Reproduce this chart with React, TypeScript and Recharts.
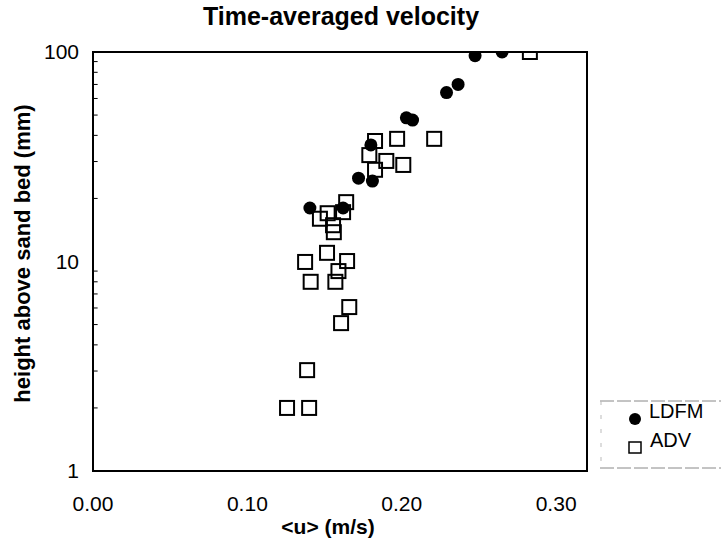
import React from "react";
import {
  ScatterChart,
  Scatter,
  XAxis,
  YAxis,
  ReferenceArea,
  ReferenceLine,
  Label,
} from "recharts";

// LDFM: velocity (m/s) vs height above bed (mm)
const ldfmU = [0.2475, 0.265, 0.229, 0.2365, 0.203, 0.207, 0.18, 0.172, 0.181, 0.1405, 0.162];
const ldfmZ = [96, 100, 64, 70, 48.5, 47.3, 36, 25, 24.2, 18, 18];

// ADV
const advU = [
  0.283, 0.1827, 0.197, 0.221, 0.179, 0.19, 0.201, 0.1827, 0.164, 0.152, 0.162, 0.147,
  0.1555, 0.156, 0.1516, 0.1374, 0.1646, 0.159, 0.141, 0.157, 0.166, 0.1607, 0.1387,
  0.1257, 0.14,
];
const advZ = [
  100, 37.6, 38.5, 38.5, 32.2, 30.2, 28.9, 27.4, 19.2, 17, 17.2, 16, 14.9, 13.8, 11,
  9.95, 10.05, 9, 8, 8, 6.06, 5.08, 3.03, 2, 2,
];

const xTicks = [0, 0.1, 0.2, 0.3];
const yTicks = [1, 10, 100];
const minorY = [2, 3, 4, 5, 6, 7, 8, 9, 20, 30, 40, 50, 60, 70, 80, 90];

const ldfm = ldfmU.map((u, i) => ({ u, z: ldfmZ[i] }));
const adv = advU.map((u, i) => ({ u, z: advZ[i] }));

const FONT = '"Liberation Sans", Arial, sans-serif';

const Dot = (p: any) => <circle cx={p.cx} cy={p.cy} r={6.5} fill="#000" />;
const Box = (p: any) => (
  <rect x={p.cx - 7} y={p.cy - 7} width={14} height={14} fill="none" stroke="#000" strokeWidth={2} />
);

// legend sits outside the plot, right of the frame
const LegendBox = () => (
  <svg width={121} height={70} style={{ position: "absolute", left: 600, top: 400 }}>
    <line x1={0} y1={1} x2={121} y2={1} stroke="#888" strokeDasharray="14 3" />
    <line x1={0} y1={68} x2={121} y2={68} stroke="#888" strokeDasharray="14 3" />
    <line x1={1} y1={1} x2={1} y2={68} stroke="#bbb" strokeDasharray="4 10" />
    <circle cx={35} cy={19} r={6} fill="#000" />
    <text x={49} y={18} fontSize={20} fontFamily={FONT}>LDFM</text>
    <rect x={29} y={42} width={12} height={11} fill="none" stroke="#000" strokeWidth={1.5} />
    <text x={50} y={47} fontSize={20} fontFamily={FONT}>ADV</text>
  </svg>
);

export default function App() {
  return (
    <div style={{ position: "absolute", left: 0, top: 0, width: 721, height: 541, background: "#fff", fontFamily: FONT }}>
      <div
        style={{
          position: "absolute",
          left: 141,
          top: 2,
          width: 400,
          textAlign: "center",
          fontSize: 25,
          fontWeight: "bold",
        }}
      >
        Time-averaged velocity
      </div>
      <ScatterChart width={721} height={541} margin={{ top: 52, right: 134, bottom: 0, left: 0 }}>
        <XAxis
          type="number"
          dataKey="u"
          domain={[0, 0.32]}
          ticks={xTicks}
          tickFormatter={(v: number) => v.toFixed(2)}
          tickSize={0}
          tickMargin={25}
          height={70}
          axisLine={{ stroke: "#000", strokeWidth: 2 }}
          tick={{ fill: "#000", fontSize: 21, fontFamily: FONT }}
        >
          <Label
            content={(props: any) => {
              const vb = props.viewBox;
              return (
                <text
                  x={vb.x + vb.width / 2 - 12}
                  y={vb.y + 63}
                  textAnchor="middle"
                  fontSize={21}
                  fontWeight="bold"
                  fontFamily={FONT}
                >
                  {"<u> (m/s)"}
                </text>
              );
            }}
          />
        </XAxis>
        <YAxis
          type="number"
          dataKey="z"
          scale="log"
          domain={[1, 100]}
          ticks={yTicks}
          allowDataOverflow
          tickSize={0}
          tickMargin={14}
          width={93}
          axisLine={{ stroke: "#000", strokeWidth: 2 }}
          tick={{ fill: "#000", fontSize: 21, fontFamily: FONT }}
        >
          <Label
            content={(props: any) => {
              const vb = props.viewBox;
              const cx = vb.x + 22;
              const cy = vb.y + vb.height / 2 - 8;
              return (
                <text
                  x={cx}
                  y={cy}
                  transform={`rotate(-90 ${cx} ${cy})`}
                  textAnchor="middle"
                  dominantBaseline="central"
                  fontSize={22}
                  fontWeight="bold"
                  fontFamily={FONT}
                >
                  height above sand bed (mm)
                </text>
              );
            }}
          />
        </YAxis>
        <ReferenceArea x1={0} x2={0.32} y1={1} y2={100} fill="none" stroke="#000" strokeWidth={2} />
        {minorY.map((v) => (
          <ReferenceLine
            key={v}
            segment={[
              { x: 0, y: v },
              { x: 0.003, y: v },
            ]}
            stroke="#000"
            strokeWidth={1}
          />
        ))}
        <Scatter name="ADV" data={adv} shape={Box} isAnimationActive={false} />
        <Scatter name="LDFM" data={ldfm} shape={Dot} isAnimationActive={false} />
      </ScatterChart>
      <LegendBox />
    </div>
  );
}
